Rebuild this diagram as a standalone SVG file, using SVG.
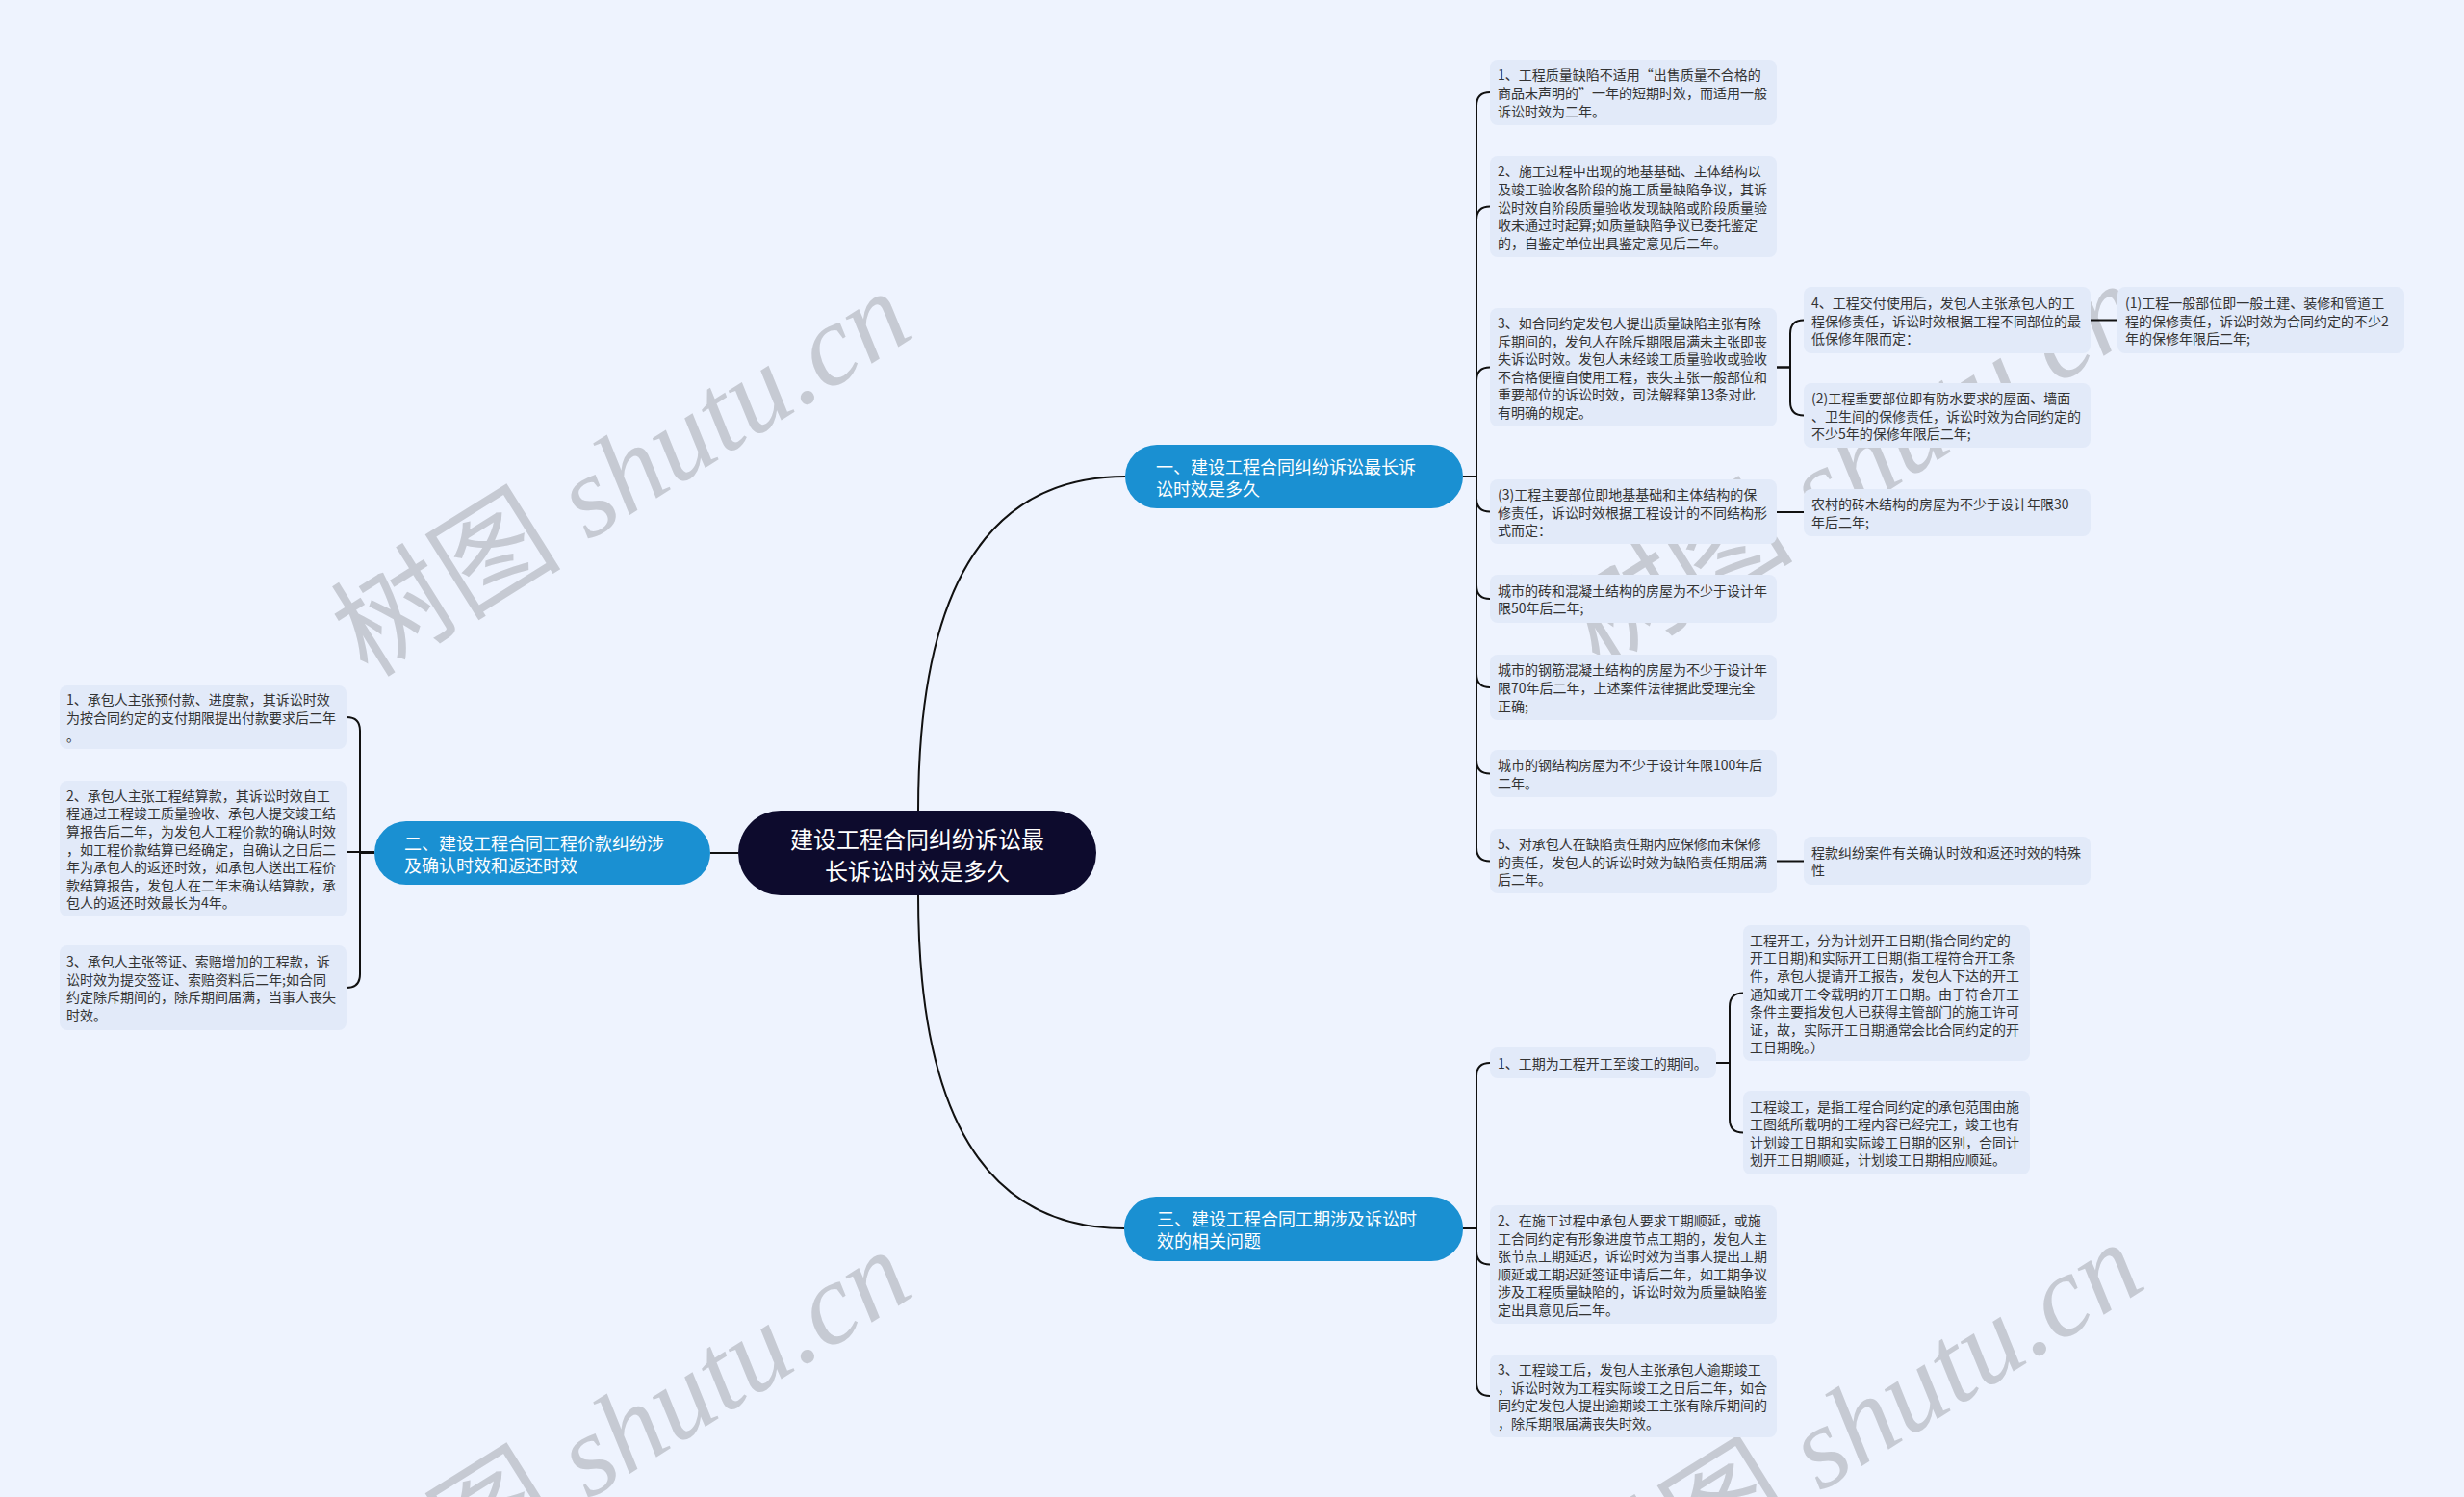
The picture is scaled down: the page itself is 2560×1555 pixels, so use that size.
<svg xmlns="http://www.w3.org/2000/svg" width="2560" height="1555" viewBox="0 0 2560 1555">
<style>
.bg{fill:#eef3fe}
.leaf rect{fill:#e2eaf9}
.leaf text{font-family:"Noto Sans CJK SC","Noto Sans",sans-serif;font-size:14px;fill:#333;dominant-baseline:central}
.br rect{fill:#1a90d2}
.br text{font-family:"Noto Sans CJK SC","Noto Sans",sans-serif;font-size:18px;fill:#fff;dominant-baseline:central}
.root rect{fill:#0d0b2d}
.root text{font-family:"Noto Sans CJK SC","Noto Sans",sans-serif;font-size:24px;fill:#fff;dominant-baseline:central;text-anchor:middle}
.wm{font-size:120px;fill:#c6cad3;font-family:"Liberation Serif","Noto Sans CJK SC",serif;font-style:italic}
.wm .cjk{font-family:"Noto Sans CJK SC",sans-serif;font-style:normal}
#connectors path{fill:none;stroke:#111;stroke-width:2}
</style>
<rect class="bg" x="0" y="0" width="2560" height="1555"/>

<g id="watermarks">
<text class="wm" transform="translate(382,705) rotate(-32)"><tspan class="cjk">树图</tspan> shutu.cn</text>
<text class="wm" transform="translate(1662,697) rotate(-32)"><tspan class="cjk">树图</tspan> shutu.cn</text>
<text class="wm" transform="translate(382,1701) rotate(-32)"><tspan class="cjk">树图</tspan> shutu.cn</text>
<text class="wm" transform="translate(1662,1693) rotate(-32)"><tspan class="cjk">树图</tspan> shutu.cn</text>
</g>

<g id="connectors">
<path d="M954,842 Q954,495 1169,495"/>
<path d="M954,930 Q954,1276 1168,1276"/>
<path d="M767,886 H738"/>
<path d="M1520,495 H1534 V110 Q1534,96 1548,96"/>
<path d="M1520,495 H1534 V228.5 Q1534,214.5 1548,214.5"/>
<path d="M1520,495 H1534 V395.5 Q1534,381.5 1548,381.5"/>
<path d="M1520,495 H1534 V517.5 Q1534,531.5 1548,531.5"/>
<path d="M1520,495 H1534 V608 Q1534,622 1548,622"/>
<path d="M1520,495 H1534 V700 Q1534,714 1548,714"/>
<path d="M1520,495 H1534 V789.5 Q1534,803.5 1548,803.5"/>
<path d="M1520,495 H1534 V880.5 Q1534,894.5 1548,894.5"/>
<path d="M1846,381.5 H1860 V346.5 Q1860,332.5 1874,332.5"/>
<path d="M1846,381.5 H1860 V417.5 Q1860,431.5 1874,431.5"/>
<path d="M2172,332.5 H2200"/>
<path d="M1846,532 H1874"/>
<path d="M1846,894.5 H1874"/>
<path d="M1520,1276 H1534 V1118 Q1534,1104 1548,1104"/>
<path d="M1520,1276 H1534 V1299.5 Q1534,1313.5 1548,1313.5"/>
<path d="M1520,1276 H1534 V1436 Q1534,1450 1548,1450"/>
<path d="M1783,1104 H1797 V1045.5 Q1797,1031.5 1811,1031.5"/>
<path d="M1783,1104 H1797 V1162.5 Q1797,1176.5 1811,1176.5"/>
<path d="M389,886 H374 V759 Q374,745 360,745"/>
<path d="M389,885 H360"/>
<path d="M389,886 H374 V1012 Q374,1026 360,1026"/>
</g>

<g id="root" class="root">
<rect x="767" y="842" width="372" height="88" rx="44"/>
<text x="953" y="870">建设工程合同纠纷诉讼最</text>
<text x="953" y="903">长诉讼时效是多久</text>
</g>

<g id="b1" class="br">
<rect x="1169" y="462" width="351" height="66" rx="33"/>
<text x="1201" y="484">一、建设工程合同纠纷诉讼最长诉</text>
<text x="1201" y="507">讼时效是多久</text>
</g>
<g id="b2" class="br">
<rect x="389" y="853" width="349" height="66" rx="33"/>
<text x="420" y="875">二、建设工程合同工程价款纠纷涉</text>
<text x="420" y="898">及确认时效和返还时效</text>
</g>
<g id="b3" class="br">
<rect x="1168" y="1243" width="352" height="67" rx="33"/>
<text x="1202" y="1265">三、建设工程合同工期涉及诉讼时</text>
<text x="1202" y="1288">效的相关问题</text>
</g>

<g id="r1" class="leaf">
<rect x="1548" y="62" width="298" height="68" rx="8"/>
<text x="1556" y="77.4">1、工程质量缺陷不适用“出售质量不合格的</text>
<text x="1556" y="96">商品未声明的”一年的短期时效，而适用一般</text>
<text x="1556" y="114.6">诉讼时效为二年。</text>
</g>
<g id="r2" class="leaf">
<rect x="1548" y="162" width="298" height="105" rx="8"/>
<text x="1556" y="177.3">2、施工过程中出现的地基基础、主体结构以</text>
<text x="1556" y="195.9">及竣工验收各阶段的施工质量缺陷争议，其诉</text>
<text x="1556" y="214.5">讼时效自阶段质量验收发现缺陷或阶段质量验</text>
<text x="1556" y="233.1">收未通过时起算;如质量缺陷争议已委托鉴定</text>
<text x="1556" y="251.7">的，自鉴定单位出具鉴定意见后二年。</text>
</g>
<g id="r3" class="leaf">
<rect x="1548" y="320" width="298" height="123" rx="8"/>
<text x="1556" y="335">3、如合同约定发包人提出质量缺陷主张有除</text>
<text x="1556" y="353.6">斥期间的，发包人在除斥期限届满未主张即丧</text>
<text x="1556" y="372.2">失诉讼时效。发包人未经竣工质量验收或验收</text>
<text x="1556" y="390.8">不合格便擅自使用工程，丧失主张一般部位和</text>
<text x="1556" y="409.4">重要部位的诉讼时效，司法解释第13条对此</text>
<text x="1556" y="428">有明确的规定。</text>
</g>
<g id="r3a" class="leaf">
<rect x="1874" y="298" width="298" height="69" rx="8"/>
<text x="1882" y="313.9">4、工程交付使用后，发包人主张承包人的工</text>
<text x="1882" y="332.5">程保修责任，诉讼时效根据工程不同部位的最</text>
<text x="1882" y="351.1">低保修年限而定：</text>
</g>
<g id="r3a1" class="leaf">
<rect x="2200" y="298" width="298" height="69" rx="8"/>
<text x="2208" y="313.9">(1)工程一般部位即一般土建、装修和管道工</text>
<text x="2208" y="332.5">程的保修责任，诉讼时效为合同约定的不少2</text>
<text x="2208" y="351.1">年的保修年限后二年;</text>
</g>
<g id="r3b" class="leaf">
<rect x="1874" y="398" width="298" height="67" rx="8"/>
<text x="1882" y="412.9">(2)工程重要部位即有防水要求的屋面、墙面</text>
<text x="1882" y="431.5">、卫生间的保修责任，诉讼时效为合同约定的</text>
<text x="1882" y="450.1">不少5年的保修年限后二年;</text>
</g>
<g id="r4" class="leaf">
<rect x="1548" y="498" width="298" height="67" rx="8"/>
<text x="1556" y="512.9">(3)工程主要部位即地基基础和主体结构的保</text>
<text x="1556" y="531.5">修责任，诉讼时效根据工程设计的不同结构形</text>
<text x="1556" y="550.1">式而定：</text>
</g>
<g id="r4a" class="leaf">
<rect x="1874" y="508" width="298" height="49" rx="8"/>
<text x="1882" y="523.2">农村的砖木结构的房屋为不少于设计年限30</text>
<text x="1882" y="541.8">年后二年;</text>
</g>
<g id="r5" class="leaf">
<rect x="1548" y="597" width="298" height="50" rx="8"/>
<text x="1556" y="612.7">城市的砖和混凝土结构的房屋为不少于设计年</text>
<text x="1556" y="631.3">限50年后二年;</text>
</g>
<g id="r6" class="leaf">
<rect x="1548" y="680" width="298" height="68" rx="8"/>
<text x="1556" y="695.4">城市的钢筋混凝土结构的房屋为不少于设计年</text>
<text x="1556" y="714">限70年后二年，上述案件法律据此受理完全</text>
<text x="1556" y="732.6">正确;</text>
</g>
<g id="r7" class="leaf">
<rect x="1548" y="779" width="298" height="49" rx="8"/>
<text x="1556" y="794.2">城市的钢结构房屋为不少于设计年限100年后</text>
<text x="1556" y="812.8">二年。</text>
</g>
<g id="r8" class="leaf">
<rect x="1548" y="861" width="298" height="67" rx="8"/>
<text x="1556" y="875.9">5、对承包人在缺陷责任期内应保修而未保修</text>
<text x="1556" y="894.5">的责任，发包人的诉讼时效为缺陷责任期届满</text>
<text x="1556" y="913.1">后二年。</text>
</g>
<g id="r8a" class="leaf">
<rect x="1874" y="869" width="298" height="50" rx="8"/>
<text x="1882" y="884.7">程款纠纷案件有关确认时效和返还时效的特殊</text>
<text x="1882" y="903.3">性</text>
</g>

<g id="t1" class="leaf">
<rect x="1548" y="1088" width="235" height="32" rx="8"/>
<text x="1556" y="1104">1、工期为工程开工至竣工的期间。</text>
</g>
<g id="t1a" class="leaf">
<rect x="1811" y="961" width="298" height="141" rx="8"/>
<text x="1818" y="975.7">工程开工，分为计划开工日期(指合同约定的</text>
<text x="1818" y="994.3">开工日期)和实际开工日期(指工程符合开工条</text>
<text x="1818" y="1012.9">件，承包人提请开工报告，发包人下达的开工</text>
<text x="1818" y="1031.5">通知或开工令载明的开工日期。由于符合开工</text>
<text x="1818" y="1050.1">条件主要指发包人已获得主管部门的施工许可</text>
<text x="1818" y="1068.7">证，故，实际开工日期通常会比合同约定的开</text>
<text x="1818" y="1087.3">工日期晚。）</text>
</g>
<g id="t1b" class="leaf">
<rect x="1811" y="1133" width="298" height="87" rx="8"/>
<text x="1818" y="1148.6">工程竣工，是指工程合同约定的承包范围由施</text>
<text x="1818" y="1167.2">工图纸所载明的工程内容已经完工，竣工也有</text>
<text x="1818" y="1185.8">计划竣工日期和实际竣工日期的区别，合同计</text>
<text x="1818" y="1204.4">划开工日期顺延，计划竣工日期相应顺延。</text>
</g>
<g id="t2" class="leaf">
<rect x="1548" y="1252" width="298" height="123" rx="8"/>
<text x="1556" y="1267">2、在施工过程中承包人要求工期顺延，或施</text>
<text x="1556" y="1285.6">工合同约定有形象进度节点工期的，发包人主</text>
<text x="1556" y="1304.2">张节点工期延迟，诉讼时效为当事人提出工期</text>
<text x="1556" y="1322.8">顺延或工期迟延签证申请后二年，如工期争议</text>
<text x="1556" y="1341.4">涉及工程质量缺陷的，诉讼时效为质量缺陷鉴</text>
<text x="1556" y="1360">定出具意见后二年。</text>
</g>
<g id="t3" class="leaf">
<rect x="1548" y="1407" width="298" height="86" rx="8"/>
<text x="1556" y="1422.1">3、工程竣工后，发包人主张承包人逾期竣工</text>
<text x="1556" y="1440.7">，诉讼时效为工程实际竣工之日后二年，如合</text>
<text x="1556" y="1459.3">同约定发包人提出逾期竣工主张有除斥期间的</text>
<text x="1556" y="1477.9">，除斥期限届满丧失时效。</text>
</g>

<g id="l1" class="leaf">
<rect x="62" y="712" width="298" height="66" rx="8"/>
<text x="69" y="726.4">1、承包人主张预付款、进度款，其诉讼时效</text>
<text x="69" y="745">为按合同约定的支付期限提出付款要求后二年</text>
<text x="69" y="763.6">。</text>
</g>
<g id="l2" class="leaf">
<rect x="62" y="811" width="298" height="141" rx="8"/>
<text x="69" y="825.7">2、承包人主张工程结算款，其诉讼时效自工</text>
<text x="69" y="844.3">程通过工程竣工质量验收、承包人提交竣工结</text>
<text x="69" y="862.9">算报告后二年，为发包人工程价款的确认时效</text>
<text x="69" y="881.5">，如工程价款结算已经确定，自确认之日后二</text>
<text x="69" y="900.1">年为承包人的返还时效，如承包人送出工程价</text>
<text x="69" y="918.7">款结算报告，发包人在二年末确认结算款，承</text>
<text x="69" y="937.3">包人的返还时效最长为4年。</text>
</g>
<g id="l3" class="leaf">
<rect x="62" y="982" width="298" height="88" rx="8"/>
<text x="69" y="998.1">3、承包人主张签证、索赔增加的工程款，诉</text>
<text x="69" y="1016.7">讼时效为提交签证、索赔资料后二年;如合同</text>
<text x="69" y="1035.3">约定除斥期间的，除斥期间届满，当事人丧失</text>
<text x="69" y="1053.9">时效。</text>
</g>
</svg>
